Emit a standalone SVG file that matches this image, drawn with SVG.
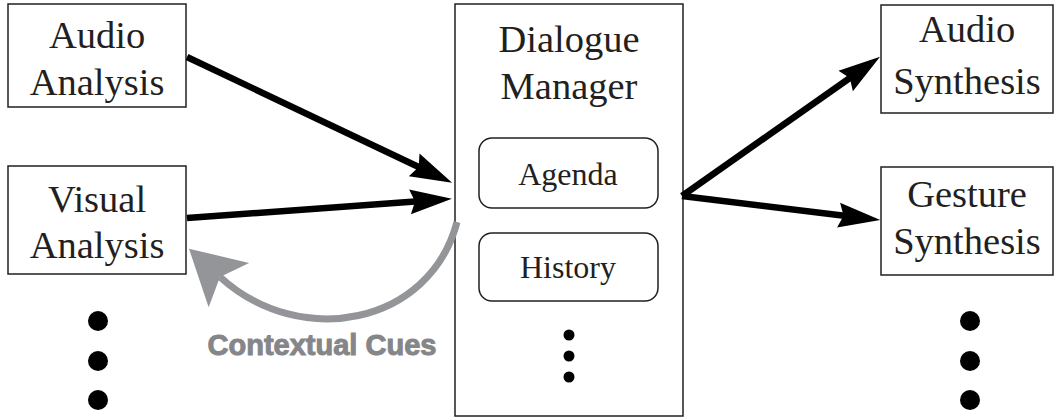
<svg xmlns="http://www.w3.org/2000/svg" width="1055" height="419" viewBox="0 0 1055 419">
<style>
.box{fill:#fff;stroke:#231f20;stroke-width:1.5}
.sub{fill:#fff;stroke:#231f20;stroke-width:1.5}
.lbl{font-family:"Liberation Serif","Times New Roman",serif;font-size:38.5px;fill:#231f20;text-anchor:middle}
.sl{font-family:"Liberation Serif","Times New Roman",serif;font-size:32px;fill:#231f20;text-anchor:middle}
.dot{fill:#000}
.conn{fill:none;stroke:#000;stroke-width:6.5}
.gconn{fill:none;stroke:#939598;stroke-width:7}
.cue{font-family:"Liberation Sans",Arial,sans-serif;font-weight:bold;font-size:29px;fill:#858689;stroke:#858689;stroke-width:1;text-anchor:middle}
</style>
<defs>
<marker id="ah" markerUnits="userSpaceOnUse" markerWidth="80" markerHeight="80" refX="0" refY="0" orient="auto" overflow="visible">
<path d="M30,0 L-12,-12.5 L-7,0 L-12,12.5 Z" fill="#000"/>
</marker>
<marker id="gh" markerUnits="userSpaceOnUse" markerWidth="120" markerHeight="120" refX="0" refY="0" orient="auto" overflow="visible">
<path d="M42,0 L-12,-30 L0,0 L-12,30 Z" fill="#939598"/>
</marker>
</defs>
<g id="audio-analysis">
<rect class="box" x="8" y="4" width="178" height="103"/>
<text class="lbl" x="97" y="48">Audio</text>
<text class="lbl" x="97" y="95">Analysis</text>
</g>
<g id="visual-analysis">
<rect class="box" x="8" y="166" width="178" height="108"/>
<text class="lbl" x="97" y="212">Visual</text>
<text class="lbl" x="97" y="258">Analysis</text>
</g>
<g id="input-more">
<circle class="dot" cx="98" cy="321" r="10"/>
<circle class="dot" cx="98" cy="361" r="10"/>
<circle class="dot" cx="98" cy="400" r="10"/>
</g>
<g id="dialogue-manager">
<rect class="box" x="455" y="4" width="228" height="412"/>
<text class="lbl" x="569" y="52">Dialogue</text>
<text class="lbl" x="569" y="99">Manager</text>
<g id="agenda">
<rect class="sub" x="479" y="138" width="179" height="70" rx="13"/>
<text class="sl" x="568" y="185">Agenda</text>
</g>
<g id="history">
<rect class="sub" x="479" y="233" width="179" height="68" rx="13"/>
<text class="sl" x="568" y="278">History</text>
</g>
<g id="dm-more">
<circle class="dot" cx="569" cy="335" r="5.5"/>
<circle class="dot" cx="569" cy="356" r="5.5"/>
<circle class="dot" cx="569" cy="377" r="5.5"/>
</g>
</g>
<g id="audio-synthesis">
<rect class="box" x="881" y="5" width="172" height="108"/>
<text class="lbl" x="967" y="42">Audio</text>
<text class="lbl" x="967" y="94">Synthesis</text>
</g>
<g id="gesture-synthesis">
<rect class="box" x="881" y="167" width="172" height="108"/>
<text class="lbl" x="967" y="207">Gesture</text>
<text class="lbl" x="967" y="254">Synthesis</text>
</g>
<g id="output-more">
<circle class="dot" cx="970" cy="321" r="10"/>
<circle class="dot" cx="970" cy="361" r="10"/>
<circle class="dot" cx="970" cy="400" r="10"/>
</g>
<g id="connectors">
<path class="conn" d="M187,57 L425,170" marker-end="url(#ah)"/>
<path class="conn" d="M187,218 L422,201" marker-end="url(#ah)"/>
<path class="conn" d="M682,196 L855.5,74" marker-end="url(#ah)"/>
<path class="conn" d="M682,196 L850.5,216.5" marker-end="url(#ah)"/>
<path class="gconn" d="M457,222 C430,325 300,350 220,277" marker-end="url(#gh)"/>
<text class="cue" x="322" y="355">Contextual Cues</text>
</g>
</svg>
